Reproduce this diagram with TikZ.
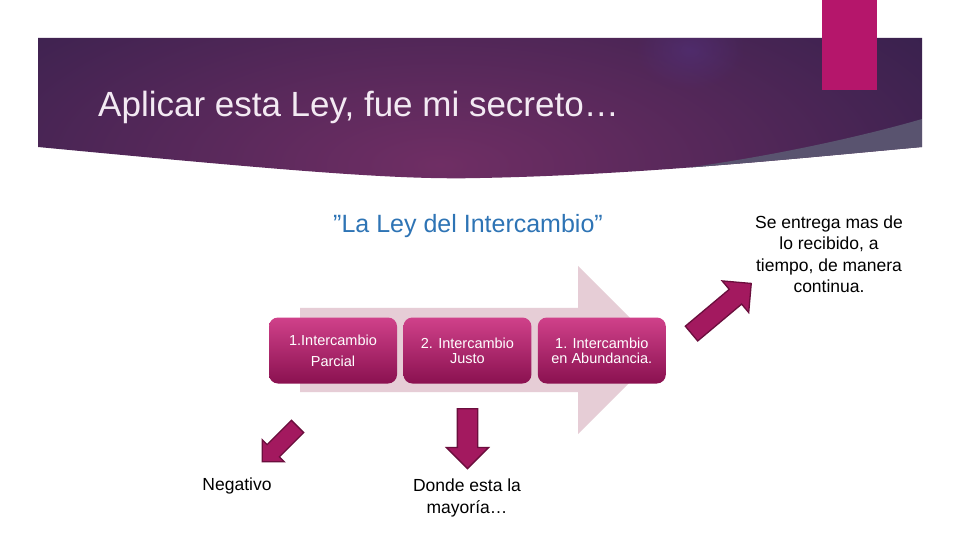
\documentclass[tikz,border=0pt]{standalone}
\usepackage{fontspec}
\setmainfont{Liberation Sans}
\usetikzlibrary{positioning,shapes.arrows,fadings}
\definecolor{bandedge}{HTML}{231C45}
\definecolor{bandmid}{HTML}{6F2E64}
\definecolor{bandspot}{HTML}{52307A}
\definecolor{wedge}{HTML}{59536F}
\definecolor{tab}{HTML}{B5166B}
\definecolor{titletxt}{HTML}{F3EAF3}
\definecolor{subblue}{HTML}{2E74B5}
\definecolor{flowbg}{HTML}{E6CDD6}
\definecolor{boxtop}{HTML}{D0418A}
\definecolor{boxbot}{HTML}{8A1150}
\definecolor{ptrfill}{HTML}{A3195F}
\definecolor{ptrrim}{HTML}{6B0E3D}
\tikzfading[name=spotfade,inner color=transparent!0,outer color=transparent!100]

\begin{document}
\begin{tikzpicture}[x=1pt,y=-1pt,
  stage/.style={rounded corners=9pt,minimum width=128pt,minimum height=66pt,
                top color=boxtop,bottom color=boxbot,text=white,align=center,
                inner sep=2pt,font=\fontsize{14.5}{15}\selectfont},
  pointer/.style={single arrow,fill=ptrfill,draw=ptrrim,line width=1.3pt,
                  inner xsep=0pt,anchor=tail},
  note/.style={align=center,font=\fontsize{17.5}{21.5}\selectfont}]

  \fill[white] (0,0) rectangle (960,540);
  \useasboundingbox (0,0) rectangle (960,540);

  \begin{scope}
    \clip (38,38) -- (922,38) -- (922,147) .. controls (800,158) and (640,175) .. (480,178)
          .. controls (400,180) and (300,172) .. (38,147) -- cycle;
    \shade[inner color=bandmid,outer color=bandedge] (440,165) ellipse (820 and 330);
    \fill[bandspot,opacity=.6,path fading=spotfade] (690,50) ellipse (55 and 40);
    \fill[wedge] (600,178) .. controls (740,165) and (860,137) .. (922,119)
          -- (922,200) -- (600,200) -- cycle;
  \end{scope}
  \fill[tab] (822,0) rectangle (877,90);

  \node[anchor=base west,text=titletxt,inner sep=0pt,font=\fontsize{35}{40}\selectfont]
    (title) at (98,117) {Aplicar esta Ley, fue mi secreto…};
  \node[anchor=base,text=subblue,inner sep=0pt,font=\fontsize{25}{30}\selectfont]
    (sub) at (468,232) {”La Ley del Intercambio”};

  \node[single arrow,fill=flowbg,inner xsep=0pt,inner ysep=42pt,minimum height=362pt,
        single arrow head extend=42pt,anchor=tail] (flow) at (300,350) {};

  \node[stage] (p1) at (333,350.5) {1.Intercambio\\[6pt]Parcial};
  \node[stage,right=6pt of p1] (p2) {2. Intercambio\\Justo};
  \node[stage,right=6pt of p2] (p3) {1. Intercambio\\en Abundancia.};

  \node[pointer,inner ysep=8pt,minimum height=50pt,single arrow head extend=7pt,
        rotate=-135] (toneg) at (298,426) {};
  \node[pointer,inner ysep=9.5pt,minimum height=60pt,single arrow head extend=11pt,
        rotate=-90] (tomost) at (467.5,408) {};
  \node[pointer,inner ysep=9pt,minimum height=78pt,single arrow head extend=11pt,
        rotate=40] (tomore) at (691,334) {};

  \node[note] (neg) at (237,486) {Negativo};
  \node[note] (most) at (467,498) {Donde esta la\\mayoría…};
  \node[note] (more) at (829,254) {Se entrega mas de\\lo recibido, a\\tiempo, de manera\\continua.};
\end{tikzpicture}
\end{document}
